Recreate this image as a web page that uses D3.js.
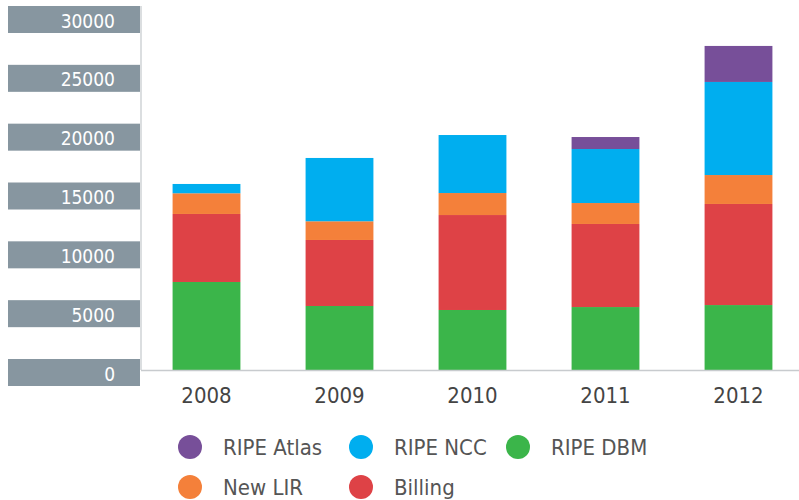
<!DOCTYPE html>
<html>
<head>
<meta charset="utf-8">
<script src="https://cdn.jsdelivr.net/npm/d3@7/dist/d3.min.js"></script>
<style>
  body { margin: 0; background: #fff; }
  svg text { font-family: "Liberation Sans Narrow", "DejaVu Sans Condensed", Roboto, sans-serif; }
</style>
</head>
<body>
<div id="chart"></div>
<script>
// data
const years = ["2008", "2009", "2010", "2011", "2012"];
const dbm = [7480, 5440, 5100, 5350, 5520];
const billing = [5780, 5610, 8070, 7060, 8590];
const newLir = [1760, 1590, 1870, 1780, 2460];
const ncc = [790, 5380, 4930, 4590, 7910];
const atlas = [0, 0, 0, 1020, 3060];
const yTicks = [0, 5000, 10000, 15000, 20000, 25000, 30000];

const seriesNames = ["RIPE DBM", "Billing", "New LIR", "RIPE NCC", "RIPE Atlas"];
const seriesValues = [dbm, billing, newLir, ncc, atlas];
const colors = {
  "RIPE DBM": "#3bb54a",
  "Billing": "#de4246",
  "New LIR": "#f4803a",
  "RIPE NCC": "#00aeef",
  "RIPE Atlas": "#774f99"
};
const legendOrder = [["RIPE Atlas", "RIPE NCC", "RIPE DBM"], ["New LIR", "Billing"]];

const width = 799, height = 500;
const svg = d3.select("#chart").append("svg")
  .attr("width", width)
  .attr("height", height);

const rows = years.map((yr, i) => {
  const r = { year: yr };
  seriesNames.forEach((s, j) => r[s] = seriesValues[j][i]);
  return r;
});

const x = d3.scaleBand()
  .domain(years)
  .range([140, 805])
  .paddingInner(0.49)
  .paddingOuter(0.245);

const y = d3.scaleLinear()
  .domain([0, 30000])
  .range([370, 17]);

// y labels in grey boxes
const tick = svg.append("g").selectAll("g")
  .data(yTicks)
  .enter().append("g")
  .attr("transform", d => `translate(0,${y(d)})`);

tick.append("rect")
  .attr("x", 8)
  .attr("y", -11)
  .attr("width", 132)
  .attr("height", 27)
  .attr("fill", "#8796a0");

tick.append("text")
  .attr("x", 115)
  .attr("y", 10.5)
  .attr("text-anchor", "end")
  .attr("fill", "#fff")
  .attr("font-size", 19)
  .text(d => d);

// stacked bars
const stacked = d3.stack().keys(seriesNames)(rows);

svg.append("g").selectAll("g")
  .data(stacked)
  .enter().append("g")
  .attr("fill", d => colors[d.key])
  .selectAll("rect")
  .data(d => d)
  .enter().append("rect")
  .attr("x", d => x(d.data.year))
  .attr("width", x.bandwidth())
  .attr("y", d => y(d[1]))
  .attr("height", d => y(d[0]) - y(d[1]));

// axis lines
svg.append("line")
  .attr("x1", 141).attr("x2", 141)
  .attr("y1", 6).attr("y2", 370)
  .attr("stroke", "#cfd3d6")
  .attr("stroke-width", 1.5);

svg.append("line")
  .attr("x1", 141).attr("x2", width)
  .attr("y1", 370.5).attr("y2", 370.5)
  .attr("stroke", "#c8cbce")
  .attr("stroke-width", 1.5);

// x labels
svg.append("g").selectAll("text")
  .data(years)
  .enter().append("text")
  .attr("x", d => x(d) + x.bandwidth() / 2)
  .attr("y", 403)
  .attr("text-anchor", "middle")
  .attr("fill", "#444")
  .attr("font-size", 22)
  .text(d => d);

// legend
const colX = [190, 361, 518];
const rowY = [447, 487];
const legend = svg.append("g");
legendOrder.forEach((row, ri) => {
  row.forEach((name, ci) => {
    legend.append("circle")
      .attr("cx", colX[ci])
      .attr("cy", rowY[ri])
      .attr("r", 12)
      .attr("fill", colors[name]);
    legend.append("text")
      .attr("x", colX[ci] + 33)
      .attr("y", rowY[ri] + 7.5)
      .attr("fill", "#555")
      .attr("font-size", 22)
      .text(name);
  });
});
</script>
</body>
</html>
